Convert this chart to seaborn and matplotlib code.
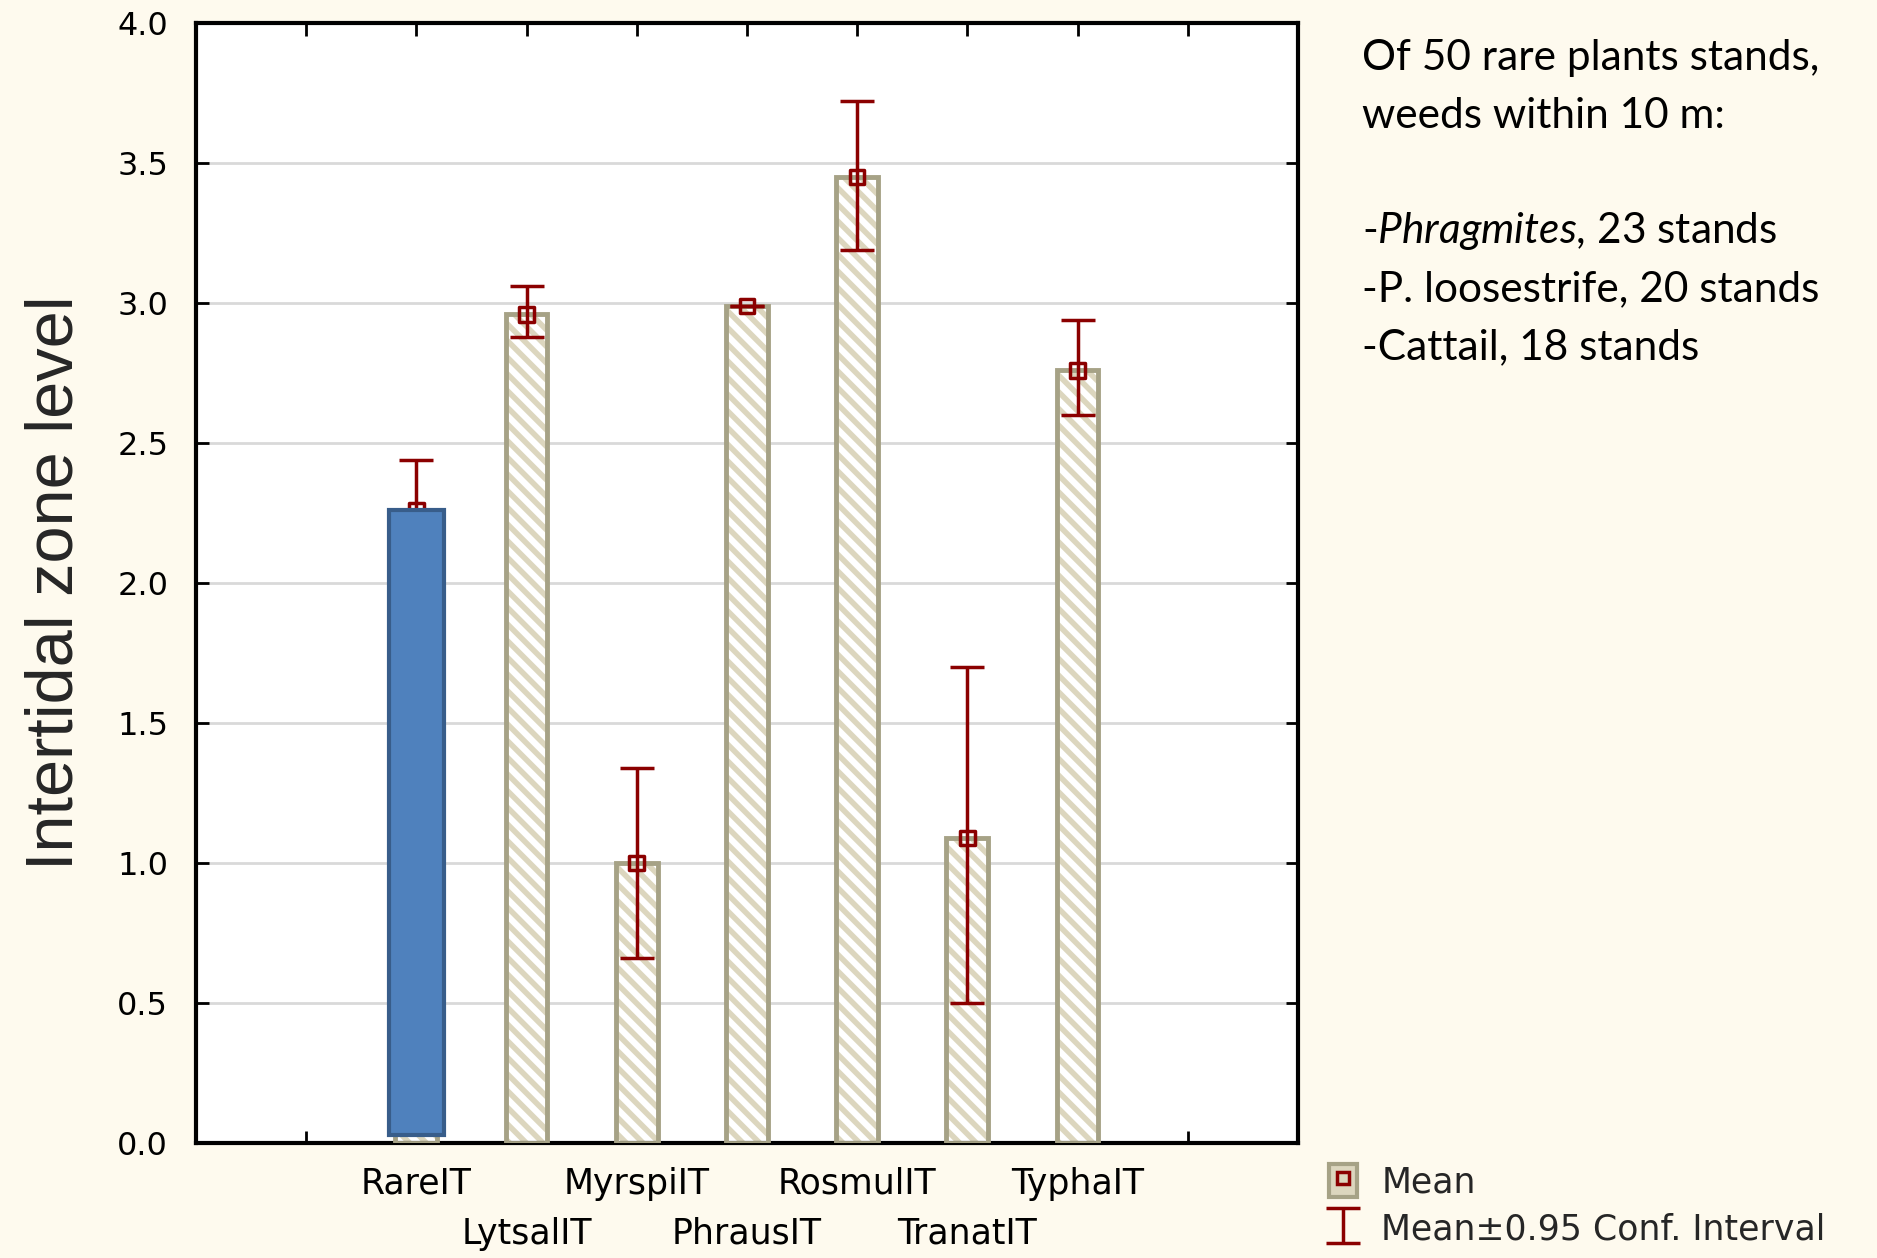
import matplotlib
matplotlib.use("Agg")
import matplotlib.pyplot as plt
import seaborn as sns
import numpy as np
import pandas as pd
from matplotlib.patches import Rectangle
from matplotlib.lines import Line2D
from matplotlib.legend_handler import HandlerTuple

# data
categories = ["RareIT", "LytsalIT", "MyrspiIT", "PhrausIT", "RosmulIT", "TranatIT", "TyphaIT"]
means = [2.26, 2.96, 1.00, 2.99, 3.45, 1.09, 2.76]
ci_low = [2.07, 2.88, 0.66, 2.99, 3.19, 0.50, 2.60]
ci_high = [2.44, 3.06, 1.34, 2.99, 3.72, 1.70, 2.94]
yticks = [0.0, 0.5, 1.0, 1.5, 2.0, 2.5, 3.0, 3.5, 4.0]
note_lines = ["Of 50 rare plants stands,", "weeds within 10 m:", "",
              r"-$\mathit{Phragmites}$, 23 stands", "-P. loosestrife, 20 stands",
              "-Cattail, 18 stands"]

sns.set_theme(style="white")
plt.rcParams['font.family'] = ['DejaVu Sans']
plt.rcParams['hatch.linewidth'] = 4.0
plt.rcParams['mathtext.fontset'] = 'custom'
plt.rcParams['mathtext.it'] = 'Lato:italic'
plt.rcParams['mathtext.rm'] = 'Lato'

bg = "#FEFAEE"
red = "#8B0000"
df = pd.DataFrame({"cat": categories, "mean": means})

fig = plt.figure(figsize=(18.77, 12.58), dpi=100, facecolor=bg)
ax = fig.add_axes([0.1044, 0.0914, 0.5871, 0.8903])
ax.set_facecolor("white")

# patterned bars (hatch drawn in beige), then olive outline on top
sns.barplot(data=df, x="cat", y="mean", ax=ax, width=0.38, color="white",
            edgecolor="#DCD6BE", linewidth=0, zorder=2)
for p in ax.patches:
    p.set_hatch("\\\\")
sns.barplot(data=df, x="cat", y="mean", ax=ax, width=0.38, fill=False,
            color="#A6A286", linewidth=3.5, zorder=3)

x = np.arange(len(categories))
m = np.array(means)
err = ax.errorbar(x, m, yerr=[m - np.array(ci_low), np.array(ci_high) - m], fmt="none",
                  ecolor=red, elinewidth=2.5, capsize=12, capthick=2.5, zorder=4,
                  label="Mean±0.95 Conf. Interval")
ax.scatter(x, m, marker="s", s=110, facecolors="none", edgecolors=red, linewidths=2.5, zorder=5)

# highlighted rare-plant bar
ax.bar(0, means[0] - 0.03, bottom=0.03, width=0.5, color="#4F81BD",
       edgecolor="#385D8A", linewidth=3, zorder=6)

ax.set_xlim(-2, 8)
ax.set_ylim(0, 4)
# staggered category labels: even ones on major ticks, odd ones on minor ticks further down
ax.xaxis.remove_overlapping_locs = False
ax.set_xticks(np.arange(-1, 8))
ax.set_xticklabels([""] + [c if i % 2 == 0 else "" for i, c in enumerate(categories)] + [""],
                   fontsize=25)
ax.set_xticks(x[1::2], minor=True)
ax.set_xticklabels(categories[1::2], minor=True, fontsize=25)
ax.set_yticks(yticks)
ax.set_yticklabels([f"{v:.1f}" for v in yticks], fontsize=23)
ax.yaxis.grid(True, color="#D9D9D9", linewidth=2, zorder=0)
ax.set_axisbelow(True)
ax.tick_params(which="both", direction="in", length=9, width=2, top=True, right=True,
               bottom=True, left=True, colors="black", labelcolor="black")
ax.tick_params(axis="x", which="major", pad=17)
ax.tick_params(axis="x", which="minor", length=0, pad=53, top=False)
ax.tick_params(axis="y", pad=20)
for s in ax.spines.values():
    s.set_linewidth(3)
    s.set_color("black")
ax.set_xlabel("")
ax.set_ylabel("Intertidal zone level", family=["Liberation Sans"], fontsize=48, labelpad=22)

# note on the right
for i, line in enumerate(note_lines):
    fig.text(0.7256, 1 - (58 + i * 57.8) / 1258, line, family=["Lato"], fontsize=30.5,
             va="center", ha="left", color="black")

# legend
mean_handle = (Rectangle((0, 0), 1, 1, facecolor="#DCD6BE", edgecolor="#A6A286", linewidth=3),
               Line2D([], [], marker="s", linestyle="none", markersize=9, markerfacecolor="none",
                      markeredgecolor=red, markeredgewidth=2.5))
fig.legend([mean_handle, err], ["Mean", "Mean±0.95 Conf. Interval"],
           handler_map={tuple: HandlerTuple(ndivide=1, pad=0)},
           loc="lower left", bbox_to_anchor=(0.6915, -0.016), frameon=False, fontsize=25,
           handlelength=0.8, handleheight=1.1, handletextpad=0.7, labelspacing=0.35)

fig.savefig("out.png", dpi=100, facecolor=bg)
